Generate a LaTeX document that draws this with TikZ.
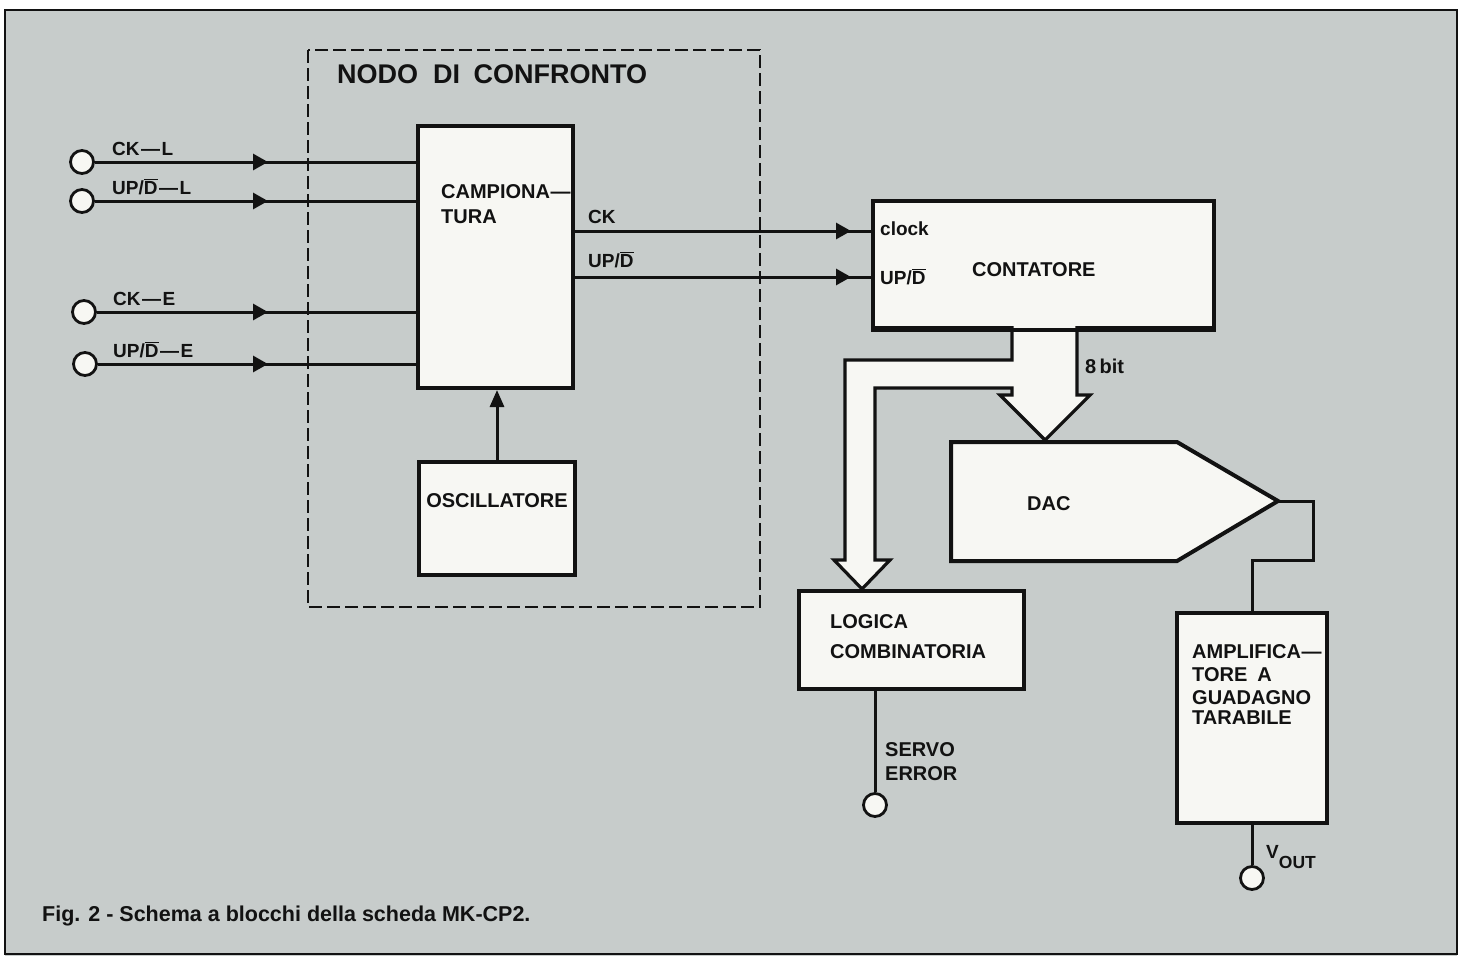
\documentclass[tikz,border=0pt]{standalone}
\usepackage{fontspec}
\setmainfont{Liberation Sans}
\newfontfamily\medfont{Liberation Sans Bold}[Ligatures=TeX]
\usetikzlibrary{arrows.meta,decorations.markings}
\definecolor{pagebg}{RGB}{199,204,203}
\definecolor{ink}{RGB}{18,18,18}
\definecolor{boxfill}{RGB}{247,247,243}
\newcommand{\Dbar}{$\overline{\hbox{D}}$}
\newcommand{\ldash}{\kern1.5pt—\kern1.5pt}
\begin{document}
\begin{tikzpicture}[x=1pt,y=-1pt,
  blk/.style={draw=ink, fill=boxfill, line width=4pt, inner sep=0pt},
  term/.style={circle, draw=ink, fill=boxfill, line width=2.8pt, minimum size=23pt, inner sep=0pt},
  sig/.style={draw=ink, line width=3pt},
  lbl/.style={text=ink, inner sep=0pt, anchor=base west, font=\medfont\fontsize{19}{22}\selectfont},
  btxt/.style={text=ink, inner sep=0pt, anchor=base west, font=\medfont\fontsize{20}{22}\selectfont},
  arrowat/.style={postaction={decorate},decoration={markings, mark=at position #1 with {\arrow{Triangle[length=15pt,width=16pt]}}}},
  dashbox/.style={draw=ink, line width=2.8pt, dash pattern=on 13pt off 5pt},
]
\useasboundingbox (0,0) rectangle (1463,956);
\fill[white] (0,0) rectangle (1463,956);
\fill[pagebg] (5,10) rectangle (1457,956);
\draw[ink, line width=2.5pt] (5,10) rectangle (1457,954);

% comparison node frame
\draw[dashbox] (308,50) rectangle (760,607);
\node[text=ink, inner sep=0pt, anchor=base west, font=\medfont\fontsize{27}{29}\selectfont] (nodoT) at (337,83) {NODO\hspace{0.55em}DI\hspace{0.5em}CONFRONTO};

% blocks
\node[blk, minimum width=155pt, minimum height=262pt] (camp) at (495.5,257) {};
\node[blk, minimum width=156pt, minimum height=113pt] (osc) at (497,518.5) {};
\node[blk, minimum width=341pt, minimum height=127pt] (cont) at (1043.5,264.5) {};
\node[blk, minimum width=225pt, minimum height=98pt] (logic) at (911.5,640) {};
\node[blk, minimum width=150pt, minimum height=210pt] (amp) at (1252,718) {};

% bus arrow from counter (under the counter border)
\draw[draw=ink, fill=boxfill, line width=3.2pt] (1012,326) -- (1012,360) -- (845,360) -- (845,560) -- (834,560) -- (862,589) -- (890,560) -- (875,560) -- (875,388) -- (1012,388) -- (1012,395) -- (1000,395) -- (1045,440) -- (1090,395) -- (1077,395) -- (1077,326);
\draw[ink, line width=4pt] (cont.south west) -- (cont.south east);

% DAC
\draw[blk] (951,442) -- (1177,442) -- (1278,501) -- (1177,561) -- (951,561) -- cycle;
\coordinate (dactip) at (1278,501);
\coordinate (dacout) at (1313,501);
\coordinate (dacdown) at (1313,560);

% block texts
\node[btxt] (campT1) at (441,198) {CAMPIONA\kern0.5pt—};
\node[btxt] (campT2) at (441,223) {TURA};
\node[btxt, anchor=base] (oscT) at (497,507) {OSCILLATORE};
\node[lbl] (clockT) at (880,235) {clock};
\node[lbl] (updT) at (880,284) {UP/\Dbar};
\node[btxt] (contT) at (972,276) {CONTATORE};
\node[btxt] (bitT) at (1085,373) {8\,bit};
\node[btxt] (dacT) at (1027,510) {DAC};
\node[btxt] (logT1) at (830,628) {LOGICA};
\node[btxt] (logT2) at (830,658) {COMBINATORIA};
\node[btxt] (servT1) at (885,756) {SERVO};
\node[btxt] (servT2) at (885,780) {ERROR};
\node[btxt] (ampT1) at (1192,658) {AMPLIFICA\kern0.5pt—};
\node[btxt] (ampT2) at (1192,681) {TORE\hspace{0.5em}A};
\node[btxt] (ampT3) at (1192,704) {GUADAGNO};
\node[btxt] (ampT4) at (1192,724) {TARABILE};

% input terminals
\node[term] (tCKL) at (82,162) {};
\node[term] (tUDL) at (82,201) {};
\node[term] (tCKE) at (84,312) {};
\node[term] (tUDE) at (85,364) {};
\node[lbl] (lCKL) at (112,155) {CK\ldash L};
\node[lbl] (lUDL) at (112,194) {UP/\Dbar\ldash L};
\node[lbl] (lCKE) at (113,305) {CK\ldash E};
\node[lbl] (lUDE) at (113,357) {UP/\Dbar\ldash E};

\draw[sig, arrowat=-148pt] (tCKL) -- (camp.west |- tCKL);
\draw[sig, arrowat=-148pt] (tUDL) -- (camp.west |- tUDL);
\draw[sig, arrowat=-148pt] (tCKE) -- (camp.west |- tCKE);
\draw[sig, arrowat=-148pt] (tUDE) -- (camp.west |- tUDE);

% sampling -> counter
\coordinate (ckrow) at (0,231);
\coordinate (udrow) at (0,277);
\node[lbl] (lCK) at (588,223) {CK};
\node[lbl] (lUD) at (588,267) {UP/\Dbar};
\draw[sig, arrowat=-20pt] (camp.east |- ckrow) -- (cont.west |- ckrow);
\draw[sig, arrowat=-20pt] (camp.east |- udrow) -- (cont.west |- udrow);

% oscillator -> sampling
\draw[sig, -{Triangle[length=17pt,width=14pt]}] (osc.north) -- (osc.north |- camp.south);

% DAC -> amplifier
\draw[sig] (dactip) -- (dacout) -- (dacdown) -- (dacdown -| amp.north) -- (amp.north);

% outputs
\node[term] (tSERVO) at (875,805) {};
\draw[sig] (tSERVO |- logic.south) -- (tSERVO);
\node[term] (tVOUT) at (1252,878) {};
\draw[sig] (amp.south) -- (tVOUT);
\node[lbl] (voutT) at (1266,858) {V\raisebox{-0.55em}{\fontsize{17.5}{18}\selectfont OUT}};

% caption
\node[lbl, font=\bfseries\fontsize{21.5}{24}\selectfont] (capT) at (42,921) {Fig. 2 - Schema a blocchi della scheda MK-CP2.};
\end{tikzpicture}
\end{document}
